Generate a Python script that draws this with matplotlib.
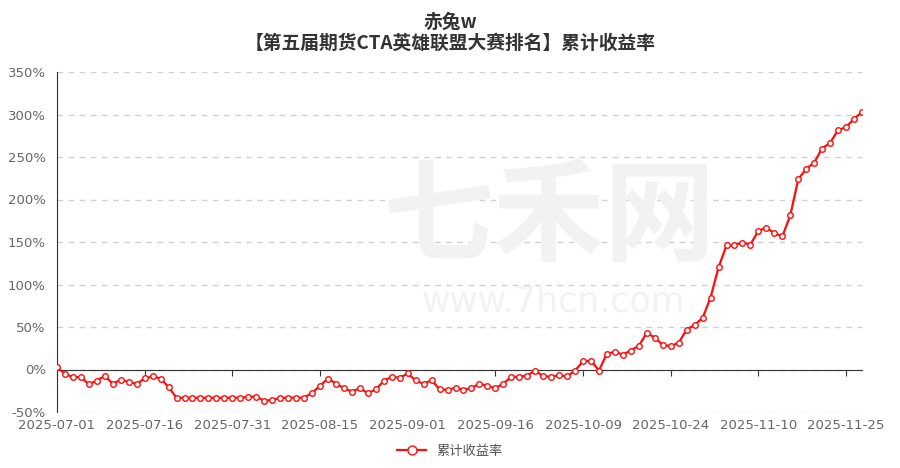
import matplotlib.pyplot as plt
import pandas as pd

plt.rcParams['font.family'] = ['Noto Sans CJK SC', 'DejaVu Sans']

# trading days 2025-07-01 .. 2025-11-27 (National Day holiday closed)
holidays = pd.date_range("2025-10-01", "2025-10-08")
dates = [d for d in pd.bdate_range("2025-07-01", "2025-11-27") if d not in holidays]

# cumulative return, %
returns = [
    2.5, -5, -9.2, -8.8, -17.5, -13, -7.5, -17, -12, -14.8,
    -17, -10.5, -8.2, -10.6, -20.8, -33.3, -33.3, -33.3, -33.3, -33.3,
    -33.3, -33.3, -33.3, -33, -32.5, -31.8, -36.9, -35.7, -33.7, -33,
    -33.3, -33, -27.5, -19.2, -10.6, -16.5, -22, -26, -22, -27.8,
    -23.5, -13.3, -8.6, -9.8, -4.7, -12.9, -16.9, -12.5, -23.5, -23.9,
    -21.6, -23.9, -22, -16.5, -19.6, -22, -16.5, -8.6, -8.6, -7.1,
    -1.2, -8.2, -8.4, -6.7, -8.2, -1.2, 9.6, 10.4, -1.2, 18.8,
    20.6, 17.6, 22.2, 28, 43.1, 37.5, 29, 27.5, 31.4, 47,
    52.5, 60.6, 84.7, 120.2, 146, 146.4, 149.4, 147, 163.1, 166.9,
    160.4, 156.5, 181.2, 223.8, 236, 243.5, 260, 266.7, 281.6, 285,
    295, 303,
]

yticks = list(range(-50, 351, 50))
tick_step = 11

title = "赤兔w\n【第五届期货CTA英雄联盟大赛排名】累计收益率"
series_name = "累计收益率"


def main():
    fig = plt.figure(figsize=(9, 4.68), dpi=100)
    ax = fig.add_axes([57 / 900, 1 - 412 / 468, (862 - 57) / 900, (412 - 72) / 468])

    # watermark
    fig.text(0.61, 0.53, "七禾网", fontsize=80, fontweight="bold", color="#f2f2f2",
             ha="center", va="center", zorder=0)
    fig.text(0.615, 0.355, "www.7hcn.com", fontsize=25, color="#f2f2f2", ha="center", va="center",
             family="DejaVu Sans", zorder=0)
    ax.patch.set_alpha(0)

    x = list(range(len(returns)))
    ax.plot(x, returns, color="#ff0d0d", lw=1.6, marker="o", markersize=4.0,
            markerfacecolor="white", markeredgecolor="#ff0d0d", markeredgewidth=1.0,
            label=series_name, zorder=3)

    ax.set_xlim(0, len(returns) - 1)
    ax.set_ylim(-50, 350)
    ax.set_yticks(yticks)
    ax.set_yticklabels([f"{v}%" for v in yticks], family="DejaVu Sans", fontsize=9.5, color="#666666")
    ax.tick_params(axis="y", length=0, pad=8)
    ax.yaxis.grid(True, color="#d0d0d0", linestyle=(0, (4, 4)), lw=1)
    ax.set_axisbelow(True)

    for s in ["top", "right"]:
        ax.spines[s].set_visible(False)
    ax.spines["left"].set_color("#333333")
    ax.spines["bottom"].set_position(("data", 0))
    ax.spines["bottom"].set_color("#333333")

    pos = x[::tick_step]
    ax.set_xticks(pos)
    ax.set_xticklabels([])
    ax.tick_params(axis="x", length=4, color="#333333", direction="out")

    sec = ax.secondary_xaxis("bottom")
    sec.set_xticks(pos)
    sec.set_xticklabels([dates[i].strftime("%Y-%m-%d") for i in pos],
                        family="DejaVu Sans", fontsize=9.5, color="#666666")
    sec.tick_params(length=0, pad=5)
    sec.spines["bottom"].set_visible(False)

    fig.text(0.5, 1 - 33 / 468, title, ha="center", va="center", fontsize=13.5,
             fontweight="bold", color="#333333", linespacing=1.1)

    fig.legend(loc="center", bbox_to_anchor=(0.5, 1 - 451 / 468), frameon=False,
               fontsize=9.5, labelcolor="#555555", handlelength=2.2, markerscale=1.6)

    fig.savefig("out.png", dpi=100)


if __name__ == "__main__":
    main()
